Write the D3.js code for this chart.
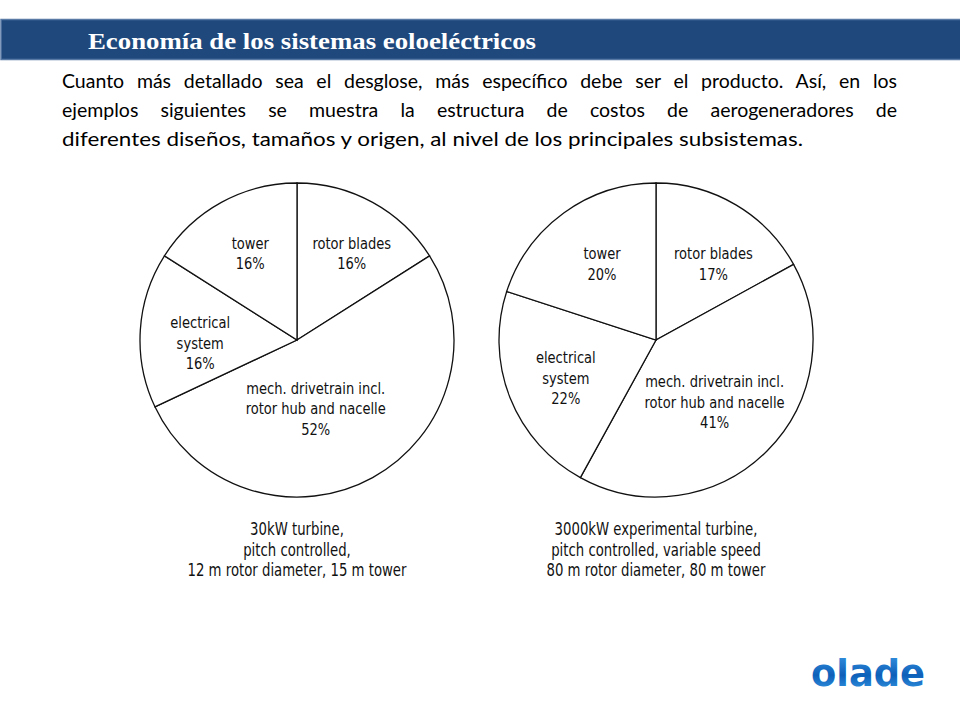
<!DOCTYPE html>
<html><head><meta charset="utf-8">
<script src="https://cdn.jsdelivr.net/npm/d3@7"></script>
<style>body{margin:0;background:#fff}svg{display:block}</style>
</head><body>
<svg id="c" width="960" height="720"></svg>
<script>
// ---- data ----
const titleText = "Economía de los sistemas eoloeléctricos";
const paragraphLines = [
  "Cuanto más detallado sea el desglose, más específico debe ser el producto. Así, en los",
  "ejemplos siguientes se muestra la estructura de costos de aerogeneradores de",
  "diferentes diseños, tamaños y origen, al nivel de los principales subsistemas."
];
const categories = ["rotor blades", "mech. drivetrain incl. rotor hub and nacelle", "electrical system", "tower"];
const categoryLines = [["rotor blades"], ["mech. drivetrain incl.", "rotor hub and nacelle"], ["electrical", "system"], ["tower"]];
const values30kW = [16, 52, 16, 16];
const values3000kW = [17, 41, 22, 20];
const caption30kW = ["30kW turbine,", "pitch controlled,", "12 m rotor diameter, 15 m tower"];
const caption3000kW = ["3000kW experimental turbine,", "pitch controlled, variable speed", "80 m rotor diameter, 80 m tower"];
const logoText = "olade";

// ---- layout ----
const svg = d3.select("#c");
const techFont = "'DejaVu Sans Condensed','DejaVu Sans',sans-serif";

// header band
svg.append("rect").attr("x", 1).attr("y", 19.5).attr("width", 960).attr("height", 40)
  .attr("fill", "#1f497d").attr("stroke", "#5a7aa6").attr("stroke-width", 1.5);
svg.append("text").text(titleText)
  .attr("x", 88).attr("y", 49)
  .attr("font-family", "'Liberation Serif','Times New Roman',serif")
  .attr("font-weight", "bold").attr("font-size", 24).attr("fill", "#fff")
  .attr("textLength", 448).attr("lengthAdjust", "spacingAndGlyphs");

// paragraph (justified by word spacing)
const pTargets = [835, 835, null];
paragraphLines.forEach((t, i) => {
  const el = svg.append("text").text(t)
    .attr("x", 62).attr("y", 88 + i * 29)
    .attr("font-family", "Lato,'Noto Sans',sans-serif")
    .attr("font-size", 19.5).attr("fill", "#000");
  const nat = el.node().getComputedTextLength();
  if (pTargets[i]) {
    const spaces = (t.match(/ /g) || []).length;
    el.attr("word-spacing", (pTargets[i] - nat) / spaces);
  } else {
    el.attr("textLength", 741).attr("lengthAdjust", "spacingAndGlyphs");
  }
});

// pies
const pie = d3.pie().sort(null).value(d => d);
const R = 157;
const arc = d3.arc().innerRadius(0).outerRadius(R);
const labelArc = d3.arc().innerRadius(97).outerRadius(97);

function techText(parent, str, x, y, sx, fs) {
  parent.append("text").text(str)
    .attr("transform", `translate(${x},${y}) scale(${sx},1)`)
    .attr("font-family", techFont).attr("font-size", fs).attr("fill", "#111")
    .attr("text-anchor", "middle");
}

function drawPie(cx, cy, values, offsets, caption, capY) {
  const g = svg.append("g").attr("transform", `translate(${cx},${cy})`);
  const arcs = pie(values);
  g.selectAll("path").data(arcs).join("path")
    .attr("d", arc).attr("fill", "#fff").attr("stroke", "#111").attr("stroke-width", 1.3);
  arcs.forEach((a, i) => {
    const [x, y] = labelArc.centroid(a);
    const lines = categoryLines[i].concat([a.data + "%"]);
    const n = lines.length;
    lines.forEach((l, j) => {
      techText(g, l, x + offsets[i][0], y + offsets[i][1] + (j - (n - 1) / 2) * 20.5 + 6, 0.88, 16.5);
    });
  });
  caption.forEach((l, j) => techText(svg, l, cx, capY + j * 20.5, 0.82, 18));
}

drawPie(297, 340, values30kW, [[8, -2], [-28, -17], [0, 9], [0, -2]], caption30kW, 535);
drawPie(656, 340, values3000kW, [[8, 7], [-10, -7], [0, 2], [3, 2]], caption3000kW, 535);

// logo
const grad = svg.append("defs").append("linearGradient").attr("id", "lg")
  .attr("x1", 0).attr("y1", 0).attr("x2", 0).attr("y2", 1);
grad.append("stop").attr("offset", "0%").attr("stop-color", "#3a9ae6");
grad.append("stop").attr("offset", "55%").attr("stop-color", "#0e5fb8");
grad.append("stop").attr("offset", "100%").attr("stop-color", "#3aa0ea");
svg.append("text").text(logoText)
  .attr("x", 811).attr("y", 686)
  .attr("font-family", "'DejaVu Sans',sans-serif").attr("font-weight", "bold")
  .attr("font-size", 38).attr("fill", "url(#lg)")
  .attr("textLength", 114).attr("lengthAdjust", "spacingAndGlyphs");
</script>
</body></html>
